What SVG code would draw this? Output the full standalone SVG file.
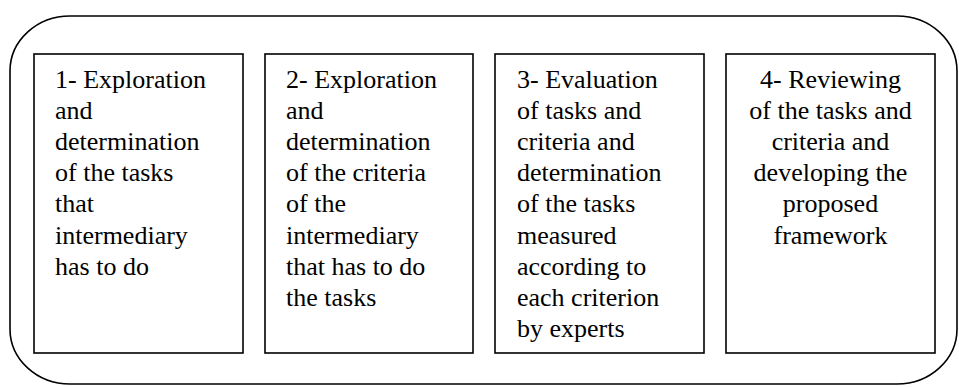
<svg xmlns="http://www.w3.org/2000/svg" width="959" height="387" viewBox="0 0 959 387">
<style>
.frame{fill:none;stroke:#000;stroke-width:1.6}
.box{fill:#fff;stroke:#000;stroke-width:1.6}
text{font-family:Liberation Serif,Times New Roman,Tinos,Noto Serif,DejaVu Serif,serif;font-size:26px;fill:#000}
</style>
<rect width="959" height="387" fill="#fff"/>
<g id="frame"><rect class="frame" x="10" y="16" width="947" height="368" rx="60" ry="55"/></g>
<g id="connectors"></g>
<g id="node1">
<rect class="box" x="34" y="54" width="209" height="299"/>
<text font-family="Liberation Serif, serif"><tspan x="55" y="87.5">1- Exploration</tspan><tspan x="55" y="118.7">and</tspan><tspan x="55" y="149.9">determination</tspan><tspan x="55" y="181.1">of the tasks</tspan><tspan x="55" y="212.3">that</tspan><tspan x="55" y="243.5">intermediary</tspan><tspan x="55" y="274.7">has to do</tspan></text>
</g>
<g id="node2">
<rect class="box" x="265" y="54" width="208" height="299"/>
<text font-family="Liberation Serif, serif"><tspan x="286" y="87.5">2- Exploration</tspan><tspan x="286" y="118.7">and</tspan><tspan x="286" y="149.9">determination</tspan><tspan x="286" y="181.1">of the criteria</tspan><tspan x="286" y="212.3">of the</tspan><tspan x="286" y="243.5">intermediary</tspan><tspan x="286" y="274.7">that has to do</tspan><tspan x="286" y="305.9">the tasks</tspan></text>
</g>
<g id="node3">
<rect class="box" x="495" y="54" width="209" height="299"/>
<text font-family="Liberation Serif, serif"><tspan x="517" y="87.5">3- Evaluation</tspan><tspan x="517" y="118.7">of tasks and</tspan><tspan x="517" y="149.9">criteria and</tspan><tspan x="517" y="181.1">determination</tspan><tspan x="517" y="212.3">of the tasks</tspan><tspan x="517" y="243.5">measured</tspan><tspan x="517" y="274.7">according to</tspan><tspan x="517" y="305.9">each criterion</tspan><tspan x="517" y="337.1">by experts</tspan></text>
</g>
<g id="node4">
<rect class="box" x="726" y="54" width="209" height="299"/>
<text font-family="Liberation Serif, serif" text-anchor="middle"><tspan x="830.5" y="87.5">4- Reviewing</tspan><tspan x="830.5" y="118.7">of the tasks and</tspan><tspan x="830.5" y="149.9">criteria and</tspan><tspan x="830.5" y="181.1">developing the</tspan><tspan x="830.5" y="212.3">proposed</tspan><tspan x="830.5" y="243.5">framework</tspan></text>
</g>
</svg>
